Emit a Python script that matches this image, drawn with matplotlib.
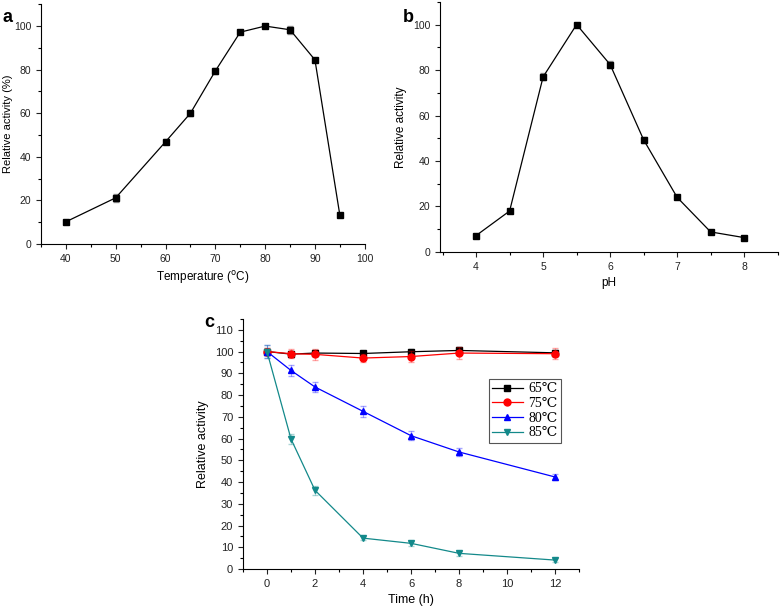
import numpy as np
import matplotlib.pyplot as plt
from matplotlib.ticker import MultipleLocator
from matplotlib.lines import Line2D

plt.rcParams['font.family'] = ['Liberation Sans', 'DejaVu Sans']

# --- panel a: temperature profile ---
temp = [40, 50, 60, 65, 70, 75, 80, 85, 90, 95]
temp_act = [10.2, 21.2, 46.9, 60.0, 79.4, 97.2, 100.0, 98.3, 84.5, 13.3]
temp_err = [1.0, 1.8, 1.2, 1.4, 1.2, 1.0, 1.0, 1.8, 1.0, 1.0]

# --- panel b: pH profile ---
ph = [4, 4.5, 5, 5.5, 6, 6.5, 7, 7.5, 8]
ph_act = [7.2, 18.0, 77.0, 100.0, 82.4, 49.3, 24.0, 8.8, 6.3]
ph_err = [0.8, 0.8, 1.5, 0.8, 1.5, 1.2, 0.8, 0.8, 0.6]

# --- panel c: thermostability ---
time_h = [0, 1, 2, 4, 6, 8, 12]
labels_c = ['65\u2103', '75\u2103', '80\u2103', '85\u2103']
act_65 = [100.0, 98.8, 99.3, 99.1, 99.9, 100.5, 99.4]
act_75 = [100.0, 99.0, 98.7, 97.0, 97.7, 99.3, 99.0]
act_80 = [100.0, 91.3, 83.7, 72.5, 61.3, 53.8, 42.3]
act_85 = [100.0, 59.8, 36.2, 14.2, 11.8, 7.2, 4.1]
err_65 = [1.5, 1.5, 1.5, 1.2, 1.2, 1.5, 1.5]
err_75 = [1.5, 2.2, 2.5, 1.8, 2.5, 2.8, 2.5]
err_80 = [3.0, 2.5, 2.5, 2.5, 2.0, 1.8, 1.5]
err_85 = [3.0, 2.5, 2.0, 1.0, 1.0, 1.2, 1.0]
colors_c = ['black', 'red', 'blue', '#13898a']
markers_c = ['s', 'o', '^', 'v']

tick_fs = 7.5
lab_fs = 8.5


def style_axis(ax, fs=tick_fs):
    ax.spines['top'].set_visible(False)
    ax.spines['right'].set_visible(False)
    ax.tick_params(which='major', direction='out', length=3.5, width=0.8, labelsize=fs, colors='#222222')
    ax.tick_params(which='minor', direction='out', length=2, width=0.8)


fig = plt.figure(figsize=(7.8, 6.1), dpi=100)

# panel a
ax_a = fig.add_axes([0.0526, 0.6, 0.415, 0.393])
ax_a.errorbar(temp, temp_act, yerr=temp_err, color='black', marker='s', ms=4.5,
              lw=0.9, ecolor='#999999', elinewidth=0.8, capsize=2)
ax_a.set_xlim(35, 100)
ax_a.set_ylim(0, 110)
ax_a.xaxis.set_major_locator(MultipleLocator(10))
ax_a.xaxis.set_minor_locator(MultipleLocator(5))
ax_a.set_yticks([0, 20, 40, 60, 80, 100])
ax_a.yaxis.set_minor_locator(MultipleLocator(10))
style_axis(ax_a)
ax_a.set_xlabel('Temperature ($^{\\rm o}$C)', fontsize=lab_fs)
ax_a.set_ylabel('Relative activity (%)', fontsize=8)
ax_a.yaxis.set_label_coords(-0.086, 0.5)
fig.text(0.003, 0.985, 'a', fontsize=13, fontweight='bold', va='top')

# panel b
ax_b = fig.add_axes([0.564, 0.587, 0.433, 0.41])
ax_b.errorbar(ph, ph_act, yerr=ph_err, color='black', marker='s', ms=4.5,
              lw=0.9, ecolor='#999999', elinewidth=0.8, capsize=2)
ax_b.set_xlim(3.46, 8.5)
ax_b.set_ylim(0, 110)
ax_b.xaxis.set_major_locator(MultipleLocator(1))
ax_b.xaxis.set_minor_locator(MultipleLocator(0.5))
ax_b.set_yticks([0, 20, 40, 60, 80, 100])
ax_b.yaxis.set_minor_locator(MultipleLocator(10))
style_axis(ax_b)
ax_b.set_xlabel('pH', fontsize=lab_fs)
ax_b.set_ylabel('Relative activity', fontsize=lab_fs)
fig.text(0.517, 0.985, 'b', fontsize=13, fontweight='bold', va='top')

# panel c
ax_c = fig.add_axes([0.3115, 0.0672, 0.431, 0.41])
series = [act_65, act_75, act_80, act_85]
errs = [err_65, err_75, err_80, err_85]
handles = []
for vals, e, c, m, lab in zip(series, errs, colors_c, markers_c, labels_c):
    ax_c.errorbar(time_h, vals, yerr=e, fmt='none', ecolor=c, elinewidth=0.8,
                  capsize=2.5, alpha=0.35)
    ax_c.plot(time_h, vals, color=c, marker=m, ms=5, lw=0.9)
    handles.append(Line2D([], [], color=c, marker=m, ms=5, lw=0.9, label=lab))
ax_c.set_xlim(-1, 13)
ax_c.set_ylim(0, 115)
ax_c.xaxis.set_major_locator(MultipleLocator(2))
ax_c.xaxis.set_minor_locator(MultipleLocator(1))
ax_c.set_yticks(np.arange(0, 111, 10))
ax_c.yaxis.set_minor_locator(MultipleLocator(5))
style_axis(ax_c, fs=8)
ax_c.set_xlabel('Time (h)', fontsize=lab_fs + 0.5)
ax_c.set_ylabel('Relative activity', fontsize=lab_fs + 0.5)
leg = ax_c.legend(handles=handles, loc='upper right', bbox_to_anchor=(0.946, 0.76),
                  borderaxespad=0, fancybox=False, edgecolor='#555555', framealpha=1,
                  handlelength=2.2, borderpad=0.25, labelspacing=0.12, handletextpad=0.4,
                  prop={'family': ['Liberation Serif', 'DejaVu Serif'], 'size': 10})
leg.get_frame().set_linewidth(0.8)
fig.text(0.262, 0.485, 'c', fontsize=13, fontweight='bold', va='top')

fig.savefig('out.png', dpi=100)
